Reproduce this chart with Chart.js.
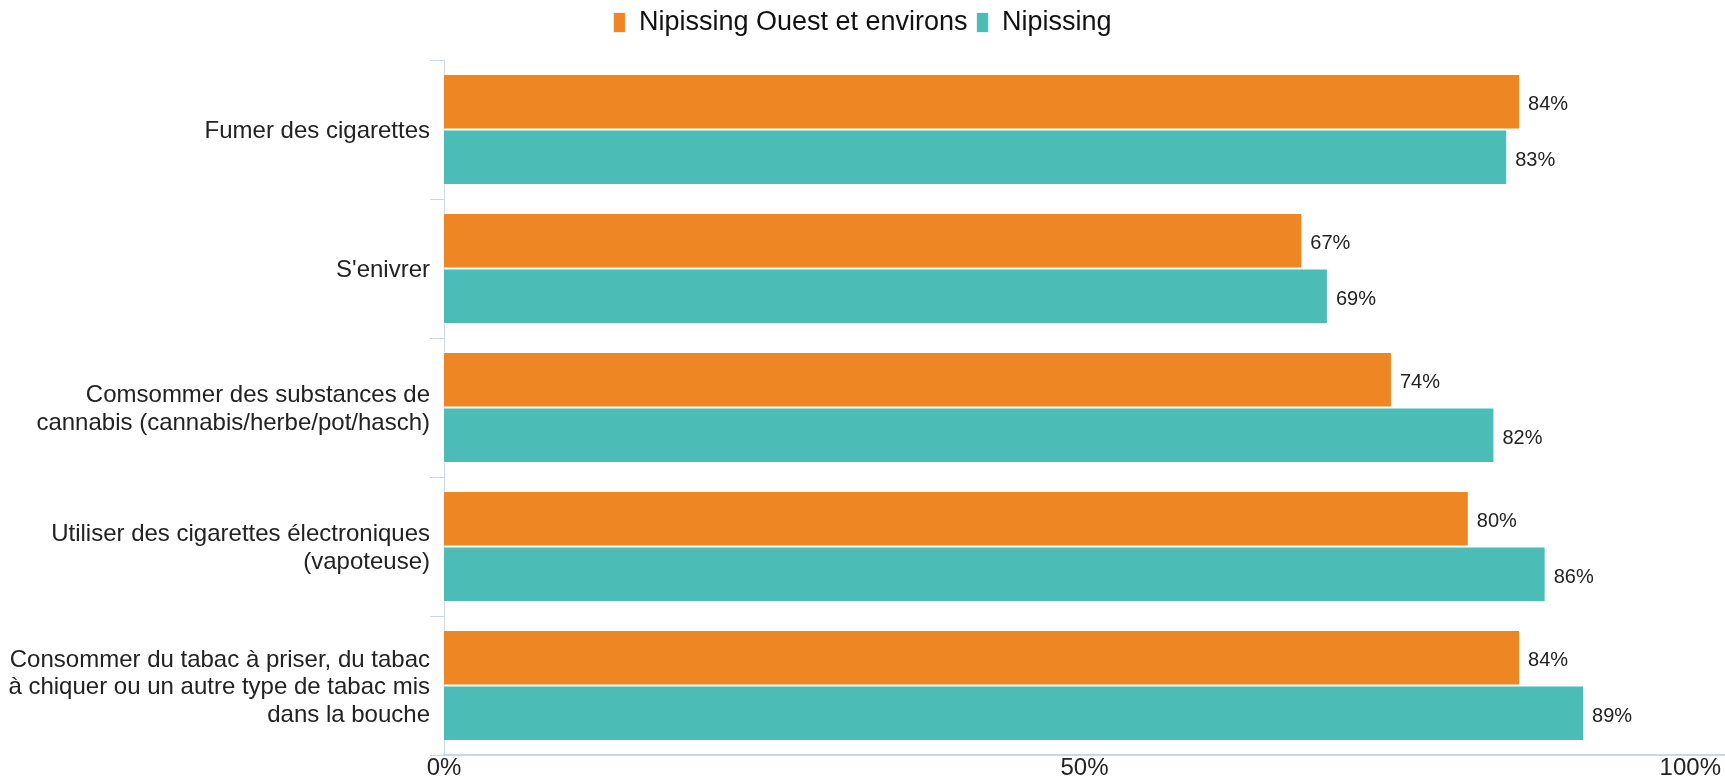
<!DOCTYPE html>
<html>
<head>
<meta charset="utf-8">
<script src="https://cdn.jsdelivr.net/npm/chart.js@4/dist/chart.umd.min.js"></script>
<style>
  html, body { margin: 0; padding: 0; background: #fff; }
  #wrap { width: 1725px; height: 778px; position: relative; }
</style>
</head>
<body>
<div id="wrap"><canvas id="comportements"></canvas></div>
<script>
var categories = [
    "Fumer des cigarettes",
    "S'enivrer",
    ["Comsommer des substances de", "cannabis (cannabis/herbe/pot/hasch)"],
    ["Utiliser des cigarettes électroniques", "(vapoteuse)"],
    ["Consommer du tabac à priser, du tabac", "à chiquer ou un autre type de tabac mis", "dans la bouche"]
];
var nipissingOuest = [84, 67, 74, 80, 84];
var nipissing = [83, 69, 82, 86, 89];
var xTicks = [0, 50, 100];

Chart.defaults.font.family = "'Liberation Sans', Arial, sans-serif";
Chart.defaults.color = '#222';

// labels de valeur au bout des barres
var valueLabels = {
    id: 'valueLabels',
    afterDatasetsDraw: function (chart) {
        var ctx = chart.ctx;
        ctx.save();
        ctx.font = "20px 'Liberation Sans', Arial, sans-serif";
        ctx.fillStyle = '#222';
        ctx.textAlign = 'left';
        ctx.textBaseline = 'middle';
        chart.data.datasets.forEach(function (ds, i) {
            chart.getDatasetMeta(i).data.forEach(function (bar, j) {
                ctx.fillText(ds.data[j] + '%', bar.x + 8, bar.y + 3);
            });
        });
        ctx.restore();
    }
};

// labels de l'axe x (le dernier reste dans le canvas)
var xLabels = {
    id: 'xLabels',
    afterDraw: function (chart) {
        var ctx = chart.ctx;
        var scale = chart.scales.x;
        ctx.save();
        ctx.font = "24px 'Liberation Sans', Arial, sans-serif";
        ctx.fillStyle = '#222';
        ctx.textAlign = 'center';
        ctx.textBaseline = 'top';
        xTicks.forEach(function (v) {
            var txt = v + '%';
            var w = ctx.measureText(txt).width;
            var px = Math.min(scale.getPixelForValue(v), chart.width - w / 2 - 4);
            ctx.fillText(txt, px, scale.top + 1);
        });
        ctx.restore();
    }
};

var legendHeight = {
    id: 'legendHeight',
    beforeInit: function (chart) {
        var fit = chart.legend.fit;
        chart.legend.fit = function () {
            fit.bind(chart.legend)();
            this.height = 60;
        };
    }
};

var ctx = document.getElementById('comportements').getContext('2d');
var chart = new Chart(ctx, {
    type: 'bar',
    data: {
        labels: categories,
        datasets: [{
            label: 'Nipissing Ouest et environs',
            data: nipissingOuest,
            backgroundColor: '#ef8624',
            borderColor: 'rgba(255,255,255,0.7)',
            borderWidth: 1,
            categoryPercentage: 0.8,
            barPercentage: 1
        }, {
            label: 'Nipissing',
            data: nipissing,
            backgroundColor: '#4cbcb6',
            borderColor: 'rgba(255,255,255,0.7)',
            borderWidth: 1,
            categoryPercentage: 0.8,
            barPercentage: 1
        }]
    },
    options: {
        indexAxis: 'y',
        responsive: true,
        maintainAspectRatio: false,
        animation: false,
        layout: { padding: 0 },
        plugins: {
            legend: {
                position: 'top',
                labels: {
                    boxWidth: 12,
                    boxHeight: 20,
                    padding: 9,
                    color: '#111',
                    font: { size: 27 }
                }
            },
            tooltip: { enabled: false }
        },
        scales: {
            x: {
                min: 0,
                max: 100,
                ticks: { display: false, stepSize: 50 },
                grid: { display: false },
                border: { display: true, color: '#ccd6eb', width: 2 },
                afterFit: function (scale) {
                    scale.height = 23;
                    scale.paddingLeft = 0;
                    scale.paddingRight = 0;
                }
            },
            y: {
                ticks: {
                    padding: 0,
                    labelOffset: 2,
                    color: '#222',
                    font: { size: 24, lineHeight: 1.15 }
                },
                grid: {
                    offset: true,
                    drawOnChartArea: false,
                    tickLength: 14,
                    color: '#ccd6eb',
                    lineWidth: 1
                },
                border: { display: true, color: '#ccd6eb', width: 1 },
                afterFit: function (scale) {
                    scale.width = 444;
                }
            }
        }
    },
    plugins: [valueLabels, xLabels, legendHeight]
});
</script>
</body>
</html>
